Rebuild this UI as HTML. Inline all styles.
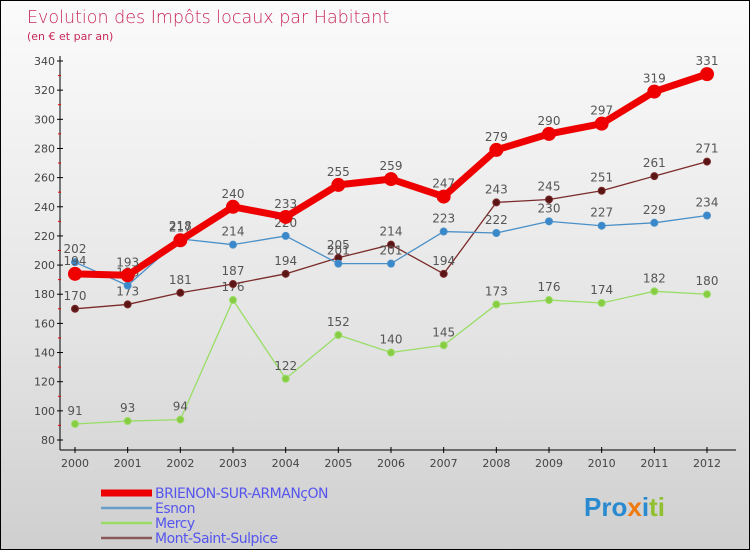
<!DOCTYPE html>
<html><head><meta charset="utf-8"><style>
html,body{margin:0;padding:0}
body{width:750px;height:550px;overflow:hidden;font-family:"DejaVu Sans","Liberation Sans",sans-serif}
#wrap{position:relative;width:748px;height:548px;border:1px solid #000;background:linear-gradient(#fbfbfb,#e4e4e4 60%,#cfcfcf)}
</style></head><body>
<div id="wrap">
<svg id="chart" width="748" height="548" style="position:absolute;left:0;top:0">
<text x="26" y="22" font-size="17.5" fill="#c8285a" font-family="DejaVu Sans,sans-serif" font-weight="200">Evolution des Impôts locaux par Habitant</text>
<text x="26" y="39" font-size="11" fill="#c8285a">(en € et par an)</text>
<g id="axes"></g><g id="series"></g><g id="legend"></g>
<text x="583" y="515" font-size="26" font-weight="bold" font-family="Liberation Sans,sans-serif"><tspan fill="#2a8ad0">Pro</tspan><tspan fill="#f07a10">x</tspan><tspan fill="#2a8ad0">i</tspan><tspan fill="#90c030">ti</tspan></text>
</svg>
</div>
<script>
const years=[2000,2001,2002,2003,2004,2005,2006,2007,2008,2009,2010,2011,2012];
const yTicks=[80,100,120,140,160,180,200,220,240,260,280,300,320,340];
const brienon=[194,193,217,240,233,255,259,247,279,290,297,319,331];
const esnon=[202,186,218,214,220,201,201,223,222,230,227,229,234];
const mercy=[91,93,94,176,122,152,140,145,173,176,174,182,180];
const mss=[170,173,181,187,194,205,214,194,243,245,251,261,271];
const names=["BRIENON-SUR-ARMANçON","Esnon","Mercy","Mont-Saint-Sulpice"];
const NS="http://www.w3.org/2000/svg";
function X(i){return 74+i*(706-74)/(years.length-1);}
function Y(v){return 439-(v-80)*(439-60)/260;}
function mk(t,a,p){const e=document.createElementNS(NS,t);for(const k in a)e.setAttribute(k,a[k]);p.appendChild(e);return e;}
const ax=document.getElementById('axes');
const yl=mk('line',{x1:59,y1:55,x2:59,y2:449,stroke:'#000','stroke-width':1},ax);

const xl=mk('line',{x1:59,y1:449,x2:735,y2:449,stroke:'#000','stroke-width':1},ax);

yTicks.forEach((t,i)=>{
 const y=Y(t);
 mk('line',{x1:56,y1:y,x2:62,y2:y,stroke:'#000'},ax);
 if(i<yTicks.length-1)mk('line',{x1:57,y1:y-14.6,x2:60,y2:y-14.6,stroke:'#e00'},ax);
 const tx=mk('text',{x:54,y:y+4,'font-size':11,fill:'#444','text-anchor':'end'},ax);
 tx.textContent=t;
 
 
});
years.forEach((yr,i)=>{
 const x=X(i);
 mk('line',{x1:x,y1:446,x2:x,y2:452,stroke:'#000'},ax);
 const tx=mk('text',{x:x,y:466,'font-size':11,fill:'#444','text-anchor':'middle'},ax);
 tx.textContent=yr;
 
 
});
const sg=document.getElementById('series');
function series(vals,color,w,r,dot,name){
 const g=mk('g',{},sg);
 
 
 mk('polyline',{points:vals.map((v,i)=>X(i)+','+Y(v)).join(' '),fill:'none',stroke:color,'stroke-width':w,'stroke-linejoin':'round'},g);
 vals.forEach((v,i)=>{
  const c=mk('circle',{cx:X(i),cy:Y(v),r:r,fill:dot,stroke:color,'stroke-width':1},g);
  
  
  const t=mk('text',{x:X(i),y:Y(v)-9,'font-size':12,fill:'#555','text-anchor':'middle'},g);
  t.textContent=v;
  
  
 });
}
series(mercy,'#99dd66',1.3,3.5,'#88cc44','mercy');
series(mss,'#7a2a2a',1.3,3.5,'#5a1515','mont-saint-sulpice');
series(esnon,'#4a90c8',1.3,3.5,'#3a88cc','esnon');
series(brienon,'#ee0000',7,6.5,'#ee0000','brienon');
const lg=document.getElementById('legend');
const lc=['#ee0000','#6a9ec8','#99dd66','#8a5a5a'],lw=[7,2.5,2.5,2.5];
names.forEach((n,i)=>{
 const y=492+i*15;
 const g=mk('g',{},lg);
 
 
 mk('line',{x1:100,y1:y,x2:151,y2:y,stroke:lc[i],'stroke-width':lw[i]},g);
 const t=mk('text',{x:154,y:y+5,'font-size':14,fill:'#5555ee','letter-spacing':'-0.5'},g);
 t.textContent=n;
});
</script>
</body></html>
